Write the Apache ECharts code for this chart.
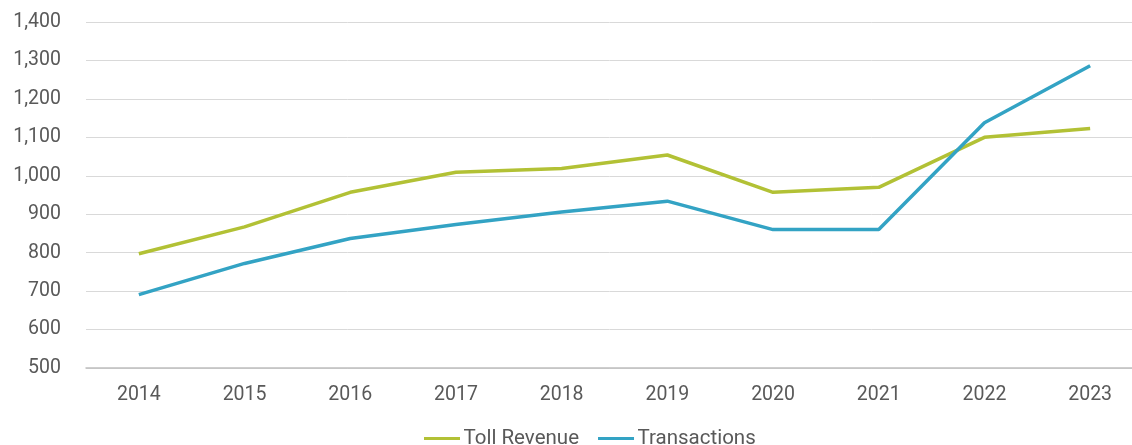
<!DOCTYPE html>
<html>
<head>
<meta charset="utf-8">
<style>
  html, body { margin: 0; padding: 0; background: #fff; }
  #chart { width: 1132px; height: 445px; }
</style>
<script src="https://cdn.jsdelivr.net/npm/echarts@6/dist/echarts.min.js"></script>
</head>
<body>
<div id="chart"></div>
<script>
// Annual figures, 2014–2023
const years = ['2014', '2015', '2016', '2017', '2018', '2019', '2020', '2021', '2022', '2023'];
const tollRevenue = [797, 867, 957, 1009, 1019, 1054, 957, 970, 1100, 1123];
const transactions = [691, 772, 837, 873, 906, 934, 860, 860, 1138, 1286];

const textColor = '#595959';
const fontFamily = 'Roboto, "Noto Sans", sans-serif';
const fontSize = 19.5;

const chart = echarts.init(document.getElementById('chart'));
chart.setOption({
  animation: false,
  textStyle: { fontFamily: fontFamily, color: textColor },
  grid: { left: 86, width: 1057, top: 22, height: 346, containLabel: false, outerBoundsMode: 'none' },
  legend: {
    top: 423,
    left: 419,
    icon: 'path://M0,0 L36,0 L36,3 L0,3 Z',
    itemWidth: 37,
    itemHeight: 3,
    itemGap: 19,
    textStyle: { fontSize: 20.5, color: textColor, fontFamily: fontFamily, padding: [0, 0, 0, -2] },
    data: ['Toll Revenue', 'Transactions']
  },
  xAxis: {
    type: 'category',
    data: years,
    boundaryGap: true,
    axisLine: { lineStyle: { color: '#bfbfbf', width: 1.5 } },
    axisTick: { inside: true, length: 6, lineStyle: { color: '#bfbfbf' } },
    axisLabel: { fontSize: fontSize, color: textColor, margin: 17 }
  },
  yAxis: {
    type: 'value',
    min: 500,
    max: 1400,
    interval: 100,
    axisLine: { show: false },
    axisTick: { show: false },
    axisLabel: {
      fontSize: fontSize,
      color: textColor,
      margin: 25,
      formatter: v => v.toLocaleString('en-US')
    },
    splitLine: { lineStyle: { color: '#d9d9d9', width: 1 } }
  },
  series: [
    {
      name: 'Toll Revenue',
      type: 'line',
      data: tollRevenue,
      symbol: 'none',
      color: '#b2c135',
      lineStyle: { width: 3.5, color: '#b2c135' }
    },
    {
      name: 'Transactions',
      type: 'line',
      data: transactions,
      symbol: 'none',
      color: '#33a3c4',
      lineStyle: { width: 3.5, color: '#33a3c4' }
    }
  ]
});
</script>
</body>
</html>
